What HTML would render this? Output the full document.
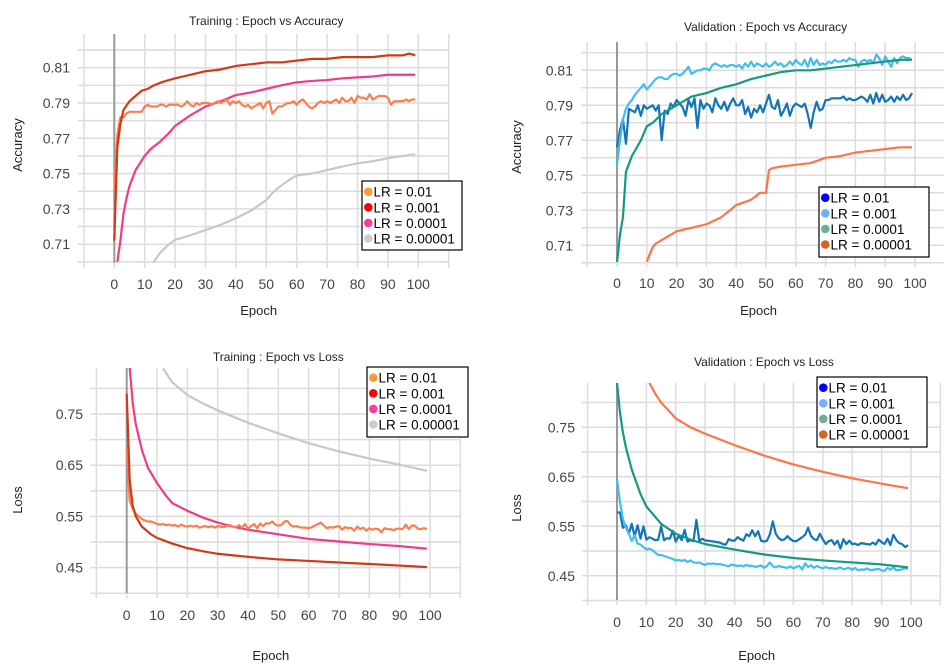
<!DOCTYPE html>
<html><head><meta charset="utf-8">
<style>
html,body{margin:0;padding:0;background:#fff;}
svg{display:block;font-family:"Liberation Sans",Arial,sans-serif;}
</style></head>
<body>
<svg id="root" width="945" height="667" viewBox="0 0 945 667"></svg>
<script>
// ---------- data ----------
const epochs100 = Array.from({length:100},(_, i)=>i);
const lrLabels = ["LR = 0.01","LR = 0.001","LR = 0.0001","LR = 0.00001"];
const xTickLabels = ["0","10","20","30","40","50","60","70","80","90","100"];

// Training accuracy
const trainAcc001 = [0.740,0.772,0.782,0.782,0.784,0.785,0.785,0.785,0.785,0.785,
0.788,0.789,0.788,0.788,0.788,0.789,0.789,0.788,0.789,0.789,
0.789,0.789,0.788,0.789,0.791,0.789,0.788,0.790,0.789,0.790,
0.790,0.790,0.789,0.790,0.791,0.790,0.791,0.792,0.789,0.791,
0.790,0.791,0.789,0.788,0.789,0.787,0.788,0.789,0.790,0.787,
0.790,0.791,0.784,0.786,0.788,0.788,0.789,0.790,0.790,0.791,
0.789,0.791,0.792,0.790,0.788,0.787,0.788,0.790,0.791,0.790,
0.791,0.790,0.791,0.792,0.790,0.793,0.791,0.791,0.793,0.790,
0.794,0.793,0.793,0.792,0.795,0.792,0.793,0.794,0.794,0.794,
0.793,0.789,0.791,0.791,0.791,0.791,0.792,0.791,0.792,0.792];
const trainAcc0001E = [0,1,2,3,5,7,9,11,13,16,20,25,30,35,40,45,50,55,60,65,70,75,80,85,90,95,97,99];
const trainAcc0001 = [0.712,0.765,0.778,0.786,0.791,0.794,0.797,0.798,0.800,0.802,0.804,0.806,0.808,0.809,0.811,0.812,0.813,0.813,0.814,0.815,0.815,0.816,0.816,0.816,0.817,0.817,0.818,0.817];
const trainAcc00001E = [1,2,3,4,5,7,10,12,15,18,20,25,30,35,40,45,50,55,60,65,70,75,80,85,90,95,99];
const trainAcc00001 = [0.700,0.712,0.727,0.736,0.743,0.752,0.760,0.764,0.768,0.773,0.777,0.783,0.788,0.791,0.7945,0.796,0.798,0.800,0.8017,0.8025,0.803,0.804,0.8045,0.805,0.806,0.806,0.806];
const trainAcc000001E = [12,13,15,18,20,25,30,35,40,45,50,52,54,58,60,65,70,75,80,85,90,95,99];
const trainAcc000001 = [0.697,0.700,0.705,0.710,0.7125,0.715,0.718,0.721,0.7247,0.729,0.735,0.739,0.742,0.747,0.749,0.750,0.752,0.754,0.7558,0.757,0.7587,0.760,0.761];

// Validation accuracy
const valAcc001 = [0.766,0.776,0.782,0.768,0.788,0.787,0.786,0.790,0.784,0.790,
0.788,0.789,0.790,0.787,0.790,0.770,0.787,0.785,0.791,0.789,
0.793,0.791,0.789,0.784,0.793,0.789,0.794,0.777,0.793,0.788,
0.791,0.790,0.786,0.794,0.790,0.788,0.792,0.787,0.791,0.794,
0.790,0.790,0.793,0.785,0.789,0.783,0.788,0.786,0.790,0.786,
0.791,0.796,0.789,0.788,0.793,0.784,0.787,0.791,0.784,0.789,
0.791,0.790,0.789,0.791,0.785,0.777,0.786,0.792,0.787,0.788,
0.793,0.793,0.794,0.794,0.794,0.794,0.795,0.793,0.794,0.793,
0.793,0.794,0.795,0.794,0.792,0.796,0.791,0.797,0.792,0.796,
0.792,0.793,0.795,0.792,0.795,0.793,0.796,0.793,0.794,0.797];
const valAcc0001 = [0.756,0.770,0.782,0.788,0.791,0.793,0.796,0.798,0.800,0.802,
0.799,0.801,0.803,0.805,0.806,0.806,0.805,0.805,0.807,0.808,
0.808,0.807,0.808,0.810,0.812,0.808,0.809,0.810,0.810,0.811,
0.811,0.810,0.813,0.814,0.813,0.812,0.813,0.812,0.813,0.813,
0.812,0.813,0.811,0.814,0.812,0.815,0.812,0.814,0.813,0.812,
0.814,0.812,0.813,0.815,0.813,0.814,0.812,0.813,0.815,0.813,
0.816,0.814,0.813,0.816,0.812,0.817,0.813,0.816,0.813,0.814,
0.813,0.815,0.814,0.816,0.815,0.815,0.816,0.815,0.817,0.816,
0.816,0.812,0.815,0.816,0.815,0.816,0.814,0.819,0.817,0.813,
0.818,0.815,0.812,0.817,0.814,0.817,0.818,0.817,0.817,0.816];
const valAcc00001E = [0,1,2,3,5,8,10,12,15,20,25,30,35,40,45,50,55,60,65,70,75,80,85,90,95,99];
const valAcc00001 = [0.700,0.716,0.726,0.752,0.761,0.770,0.778,0.780,0.785,0.790,0.795,0.797,0.800,0.802,0.805,0.807,0.809,0.810,0.810,0.811,0.812,0.813,0.814,0.815,0.816,0.816];
const valAcc000001E = [10,11,12,13,15,18,20,25,30,35,40,45,48,50,51,52,55,60,65,70,75,80,85,90,95,99];
const valAcc000001 = [0.7005,0.705,0.709,0.711,0.713,0.716,0.718,0.720,0.722,0.726,0.733,0.736,0.740,0.740,0.753,0.754,0.755,0.756,0.757,0.760,0.761,0.763,0.764,0.765,0.766,0.766];

// Training loss
const trainLoss001 = [0.680,0.580,0.565,0.555,0.550,0.545,0.542,0.540,0.540,0.538,
0.535,0.534,0.535,0.533,0.534,0.532,0.533,0.530,0.534,0.531,
0.530,0.532,0.530,0.532,0.528,0.530,0.531,0.529,0.531,0.528,
0.531,0.530,0.529,0.531,0.533,0.530,0.529,0.533,0.528,0.535,
0.526,0.531,0.535,0.527,0.536,0.531,0.537,0.536,0.540,0.534,
0.532,0.533,0.540,0.541,0.533,0.530,0.531,0.529,0.528,0.528,
0.527,0.529,0.532,0.535,0.538,0.532,0.527,0.529,0.528,0.530,
0.531,0.524,0.529,0.527,0.528,0.522,0.530,0.525,0.528,0.522,
0.527,0.524,0.526,0.525,0.519,0.527,0.525,0.525,0.523,0.526,
0.526,0.525,0.534,0.525,0.532,0.532,0.526,0.525,0.527,0.525];
const trainLoss0001E = [0,1,2,3,5,8,10,15,20,25,30,40,50,60,70,80,90,99];
const trainLoss0001 = [0.790,0.620,0.570,0.550,0.530,0.515,0.508,0.497,0.488,0.482,0.477,0.471,0.466,0.463,0.460,0.457,0.454,0.451];
const trainLoss00001E = [1,2,3,5,7,10,13,15,20,25,30,35,40,50,60,70,80,90,99];
const trainLoss00001 = [0.840,0.770,0.730,0.680,0.645,0.615,0.590,0.576,0.561,0.548,0.538,0.530,0.524,0.515,0.506,0.501,0.496,0.492,0.487];
const trainLoss000001E = [12,15,20,25,30,40,50,60,70,80,90,99];
const trainLoss000001 = [0.839,0.812,0.787,0.771,0.757,0.733,0.712,0.693,0.677,0.663,0.651,0.639];

// Validation loss
const valLoss001 = [0.578,0.578,0.547,0.552,0.535,0.555,0.530,0.552,0.525,0.550,
0.523,0.528,0.525,0.522,0.523,0.550,0.522,0.526,0.525,0.541,
0.519,0.531,0.522,0.543,0.519,0.522,0.520,0.563,0.520,0.525,
0.521,0.521,0.520,0.519,0.518,0.517,0.514,0.513,0.524,0.521,
0.521,0.528,0.524,0.521,0.534,0.530,0.542,0.530,0.540,0.521,
0.519,0.521,0.534,0.560,0.535,0.526,0.522,0.524,0.530,0.524,
0.520,0.520,0.524,0.528,0.533,0.547,0.530,0.524,0.522,0.535,
0.524,0.514,0.520,0.522,0.513,0.521,0.505,0.524,0.514,0.521,
0.514,0.515,0.512,0.516,0.515,0.514,0.513,0.517,0.513,0.523,
0.518,0.514,0.525,0.512,0.533,0.522,0.516,0.514,0.508,0.512];
const valLoss0001 = [0.645,0.600,0.565,0.547,0.536,0.520,0.532,0.515,0.513,0.508,
0.503,0.505,0.502,0.497,0.492,0.492,0.490,0.488,0.486,0.484,
0.481,0.482,0.480,0.482,0.478,0.481,0.477,0.476,0.477,0.474,
0.472,0.475,0.474,0.475,0.473,0.474,0.472,0.471,0.469,0.473,
0.471,0.470,0.471,0.469,0.472,0.470,0.470,0.468,0.469,0.471,
0.466,0.470,0.477,0.469,0.467,0.470,0.468,0.467,0.466,0.469,
0.465,0.468,0.470,0.463,0.475,0.468,0.471,0.466,0.470,0.467,
0.465,0.468,0.465,0.466,0.464,0.465,0.467,0.463,0.465,0.466,
0.462,0.466,0.461,0.463,0.462,0.465,0.462,0.462,0.463,0.464,
0.461,0.460,0.466,0.462,0.468,0.461,0.462,0.463,0.465,0.465];
const valLoss00001E = [0,1,2,3,5,8,10,15,20,25,30,40,50,60,70,80,90,99];
const valLoss00001 = [0.840,0.780,0.740,0.710,0.665,0.615,0.590,0.555,0.535,0.523,0.514,0.503,0.493,0.486,0.481,0.477,0.473,0.467];
const valLoss000001E = [11,13,15,20,25,30,40,50,60,70,80,90,99];
const valLoss000001 = [0.840,0.818,0.800,0.768,0.750,0.737,0.714,0.693,0.675,0.660,0.647,0.636,0.627];

// ---------- drawing ----------
const NS = "http://www.w3.org/2000/svg";
const root = document.getElementById("root");
function mk(tag, attrs, parent){
  const e = document.createElementNS(NS, tag);
  for (const k in attrs) e.setAttribute(k, attrs[k]);
  (parent||root).appendChild(e);
  return e;
}

const charts = [
  {id:"train-acc", title:"Training : Epoch vs Accuracy", ytitle:"Accuracy", titleY:25,
   x0:114.3, xs:3.04, y0:67.7, yv:0.81, ys:1765, top:34, bottom:263,
   gridMin:0.70, gridMax:0.82, gridStep:0.01, labMin:0.71, labMax:0.81, labStep:0.02, dec:2,
   labX:70, ytX:22, ytY:145, tickY:289, epochY:315,
   legend:{x:362,y:181,w:100,h:69}, legendDots:["#ff9a3c","#ff0000","#ff3b9a","#cccccc"],
   series:[
     {name:"lr-0.00001", e:trainAcc000001E, v:trainAcc000001, c:"#c8c8c8"},
     {name:"lr-0.0001", e:trainAcc00001E, v:trainAcc00001, c:"#f03c82"},
     {name:"lr-0.01", e:epochs100, v:trainAcc001, c:"#fa7e4e"},
     {name:"lr-0.001", e:trainAcc0001E, v:trainAcc0001, c:"#d03a18"}
   ]},
  {id:"val-acc", title:"Validation : Epoch vs Accuracy", ytitle:"Accuracy", titleY:31,
   x0:617, xs:2.98, y0:70.3, yv:0.81, ys:1750, top:42, bottom:262,
   gridMin:0.70, gridMax:0.82, gridStep:0.01, labMin:0.71, labMax:0.81, labStep:0.02, dec:2,
   labX:573, ytX:521, ytY:147, tickY:288, epochY:315,
   legend:{x:819,y:187,w:110,h:70}, legendDots:["#0000ff","#6cb4ff","#6aae9c","#d2661e"],
   series:[
     {name:"lr-0.00001", e:valAcc000001E, v:valAcc000001, c:"#ff7448"},
     {name:"lr-0.01", e:epochs100, v:valAcc001, c:"#1474b8"},
     {name:"lr-0.001", e:epochs100, v:valAcc0001, c:"#42bdf0"},
     {name:"lr-0.0001", e:valAcc00001E, v:valAcc00001, c:"#139a80"}
   ]},
  {id:"train-loss", title:"Training : Epoch vs Loss", ytitle:"Loss", titleY:361,
   x0:126.7, xs:3.033, y0:414, yv:0.75, ys:512, top:368, bottom:593,
   gridMin:0.40, gridMax:0.80, gridStep:0.05, labMin:0.45, labMax:0.75, labStep:0.1, dec:2,
   labX:83, ytX:22, ytY:500, tickY:620, epochY:660,
   legend:{x:367,y:367,w:101,h:70}, legendDots:["#ff9a3c","#ff0000","#ff3b9a","#cccccc"],
   series:[
     {name:"lr-0.00001", e:trainLoss000001E, v:trainLoss000001, c:"#c8c8c8"},
     {name:"lr-0.0001", e:trainLoss00001E, v:trainLoss00001, c:"#f03c82"},
     {name:"lr-0.01", e:epochs100, v:trainLoss001, c:"#fa7e4e"},
     {name:"lr-0.001", e:trainLoss0001E, v:trainLoss0001, c:"#d03a18"}
   ]},
  {id:"val-loss", title:"Validation : Epoch vs Loss", ytitle:"Loss", titleY:366,
   x0:617, xs:2.94, y0:427.3, yv:0.75, ys:495, top:383, bottom:600,
   gridMin:0.40, gridMax:0.80, gridStep:0.05, labMin:0.45, labMax:0.75, labStep:0.1, dec:2,
   labX:575, ytX:521, ytY:508, tickY:627, epochY:660,
   legend:{x:817,y:377,w:110,h:70}, legendDots:["#0000ff","#6cb4ff","#6aae9c","#d2661e"],
   series:[
     {name:"lr-0.00001", e:valLoss000001E, v:valLoss000001, c:"#ff7448"},
     {name:"lr-0.01", e:epochs100, v:valLoss001, c:"#1474b8"},
     {name:"lr-0.001", e:epochs100, v:valLoss0001, c:"#42bdf0"},
     {name:"lr-0.0001", e:valLoss00001E, v:valLoss00001, c:"#139a80"}
   ]}
];

charts.forEach(ch => {
  const X = ep => ch.x0 + ep*ch.xs;
  const Y = v => ch.y0 + (ch.yv - v)*ch.ys;
  const g = mk("g", {});
  
  
  const left = X(-10), right = Math.min(X(110), 944);

  const t = mk("text", {x:(left+right)/2, y:ch.titleY, "text-anchor":"middle", "font-size":"12", fill:"#222"}, g);
  t.textContent = ch.title;
  
  

  // horizontal grid
  const nH = Math.round((ch.gridMax - ch.gridMin)/ch.gridStep);
  for (let i=0;i<=nH;i++){
    const v = ch.gridMin + i*ch.gridStep;
    const l = mk("line", {x1:left-6, x2:right, y1:Y(v), y2:Y(v), stroke:"#dcdcdc", "stroke-width":"1.5"}, g);
    
    
  }
  // vertical grid
  for (let ep=-10; ep<=110; ep+=10){
    const xx = X(ep); if (xx>944) continue;
    const l = mk("line", {x1:xx, x2:xx, y1:ch.top, y2:ch.bottom+5, stroke:"#dcdcdc", "stroke-width":"1.5"}, g);
    
    
  }
  // y tick labels
  const nL = Math.round((ch.labMax - ch.labMin)/ch.labStep);
  for (let i=0;i<=nL;i++){
    const v = ch.labMin + i*ch.labStep;
    const tl = mk("text", {x:ch.labX, y:Y(v)+5, "text-anchor":"end", "font-size":"14", fill:"#444"}, g);
    tl.textContent = v.toFixed(ch.dec);
    
    
  }
  // x tick labels
  xTickLabels.forEach((lab, i) => {
    const tl = mk("text", {x:X(i*10), y:ch.tickY, "text-anchor":"middle", "font-size":"14", fill:"#444"}, g);
    tl.textContent = lab;
    
    
  });
  const xt = mk("text", {x:X(47.5), y:ch.epochY, "text-anchor":"middle", "font-size":"13", fill:"#222"}, g);
  xt.textContent = "Epoch";
  
  
  const yt = mk("text", {x:ch.ytX, y:ch.ytY, "text-anchor":"middle", "font-size":"13", fill:"#222", transform:`rotate(-90 ${ch.ytX} ${ch.ytY})`}, g);
  yt.textContent = ch.ytitle;
  
  

  // zero line
  const z = mk("line", {x1:X(0), x2:X(0), y1:ch.top, y2:ch.bottom, stroke:"#999", "stroke-width":"2"}, g);
  
  

  // clip
  const cid = "clip-" + ch.id;
  const cp = mk("clipPath", {id:cid}, g);
  mk("rect", {x:left, y:ch.top, width:right-left, height:ch.bottom-ch.top}, cp);

  ch.series.forEach(s => {
    const d = s.v.map((v,i)=> (i?"L":"M") + X(s.e[i]).toFixed(2) + " " + Y(v).toFixed(2)).join(" ");
    const p = mk("path", {d:d, fill:"none", stroke:s.c, "stroke-width":"2.2", "stroke-linejoin":"round", "clip-path":`url(#${cid})`}, g);
    
    
  });

  // legend
  const L = ch.legend;
  const lg = mk("g", {}, g);
  
  
  mk("rect", {x:L.x, y:L.y, width:L.w, height:L.h, fill:"#fff", stroke:"#000", "stroke-width":"1.2"}, lg);
  lrLabels.forEach((lab,i) => {
    const cy = L.y + 10.7 + i*15.6;
    const e = mk("g", {}, lg);
    
    
    mk("circle", {cx:L.x+6.3, cy:cy, r:4.3, fill:ch.legendDots[i]}, e);
    const tt = mk("text", {x:L.x+11.5, y:cy+5, "font-size":"13.5", fill:"#000"}, e);
    tt.textContent = lab;
  });
});
</script>
</body></html>
